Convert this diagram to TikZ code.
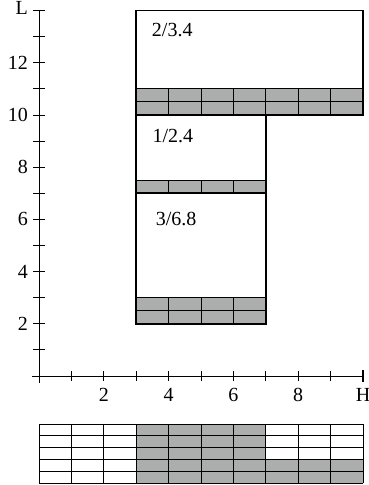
\documentclass[tikz,border=0pt]{standalone}
\usepackage{fontspec}
\setmainfont{Liberation Serif}
\definecolor{cellgray}{RGB}{172,174,173}
\begin{document}
\begin{tikzpicture}[x=32.4pt,y=26.1pt,
  axisline/.style={line width=0.8pt},
  thicktick/.style={line width=1.6pt},
  boxline/.style={line width=1.7pt},
  gridline/.style={line width=0.9pt},
  lbl/.style={inner sep=0pt,font=\fontsize{20}{22}\selectfont}]
\useasboundingbox (-39pt,-109pt) rectangle (330pt,376pt);
% axes
\draw[axisline] ([xshift=-7pt]0,0) -- (10,0);
\draw[axisline] ([yshift=-7pt]0,0) -- (0,14);
\foreach \i in {1,...,9} \draw[axisline] ([yshift=-5pt]\i,0) -- ([yshift=5pt]\i,0);
\foreach \i in {1,...,13} \draw[axisline] ([xshift=-6pt]0,\i) -- ([xshift=6pt]0,\i);
\draw[thicktick] ([yshift=-6pt]10,0) -- ([yshift=6pt]10,0);
\draw[thicktick] ([xshift=-6pt]0,14) -- ([xshift=6pt]0,14);
\foreach \i in {2,4,6,8} \node[lbl,anchor=north] (xl\i) at ([yshift=-12pt]\i,0) {\i};
\node[lbl,anchor=north] (xlH) at ([yshift=-12pt]10,0) {H};
\foreach \i in {2,4,...,12} \node[lbl,anchor=east] (yl\i) at ([xshift=-11pt]0,\i) {\i};
\node[lbl,anchor=east] (ylL) at ([xshift=-11pt,yshift=3pt]0,14) {L};
% gray strips
\fill[cellgray] (3,10) rectangle (10,11);
\fill[cellgray] (3,7) rectangle (7,7.5);
\fill[cellgray] (3,2) rectangle (7,3);
\draw[gridline] (3,10.5) -- (10,10.5);
\draw[gridline] (3,11) -- (10,11);
\foreach \i in {4,...,9} \draw[gridline] (\i,10) -- (\i,11);
\draw[gridline] (3,7.5) -- (7,7.5);
\foreach \i in {4,5,6} \draw[gridline] (\i,7) -- (\i,7.5);
\draw[gridline] (3,2.5) -- (7,2.5);
\draw[gridline] (3,3) -- (7,3);
\foreach \i in {4,5,6} \draw[gridline] (\i,2) -- (\i,3);
% boxes
\draw[boxline] (3,10) rectangle (10,14);
\draw[boxline] (3,7) rectangle (7,10);
\draw[boxline] (3,2) rectangle (7,7);
\node[lbl,anchor=base west] (b2) at (3.48,13.0) {2/3.4};
\node[lbl,anchor=base west] (b1) at (3.5,8.93) {1/2.4};
\node[lbl,anchor=base west] (b3) at (3.6,5.75) {3/6.8};
% bottom grid
\begin{scope}[yshift=-48pt,y=-11.8pt]
\fill[cellgray] (3,0) rectangle (7,5);
\fill[cellgray] (7,3) rectangle (10,5);
\foreach \r in {0,...,5} \draw[gridline] (0,\r) -- (10,\r);
\foreach \c in {0,...,10} \draw[gridline] (\c,0) -- (\c,5);
\end{scope}
\end{tikzpicture}
\end{document}
